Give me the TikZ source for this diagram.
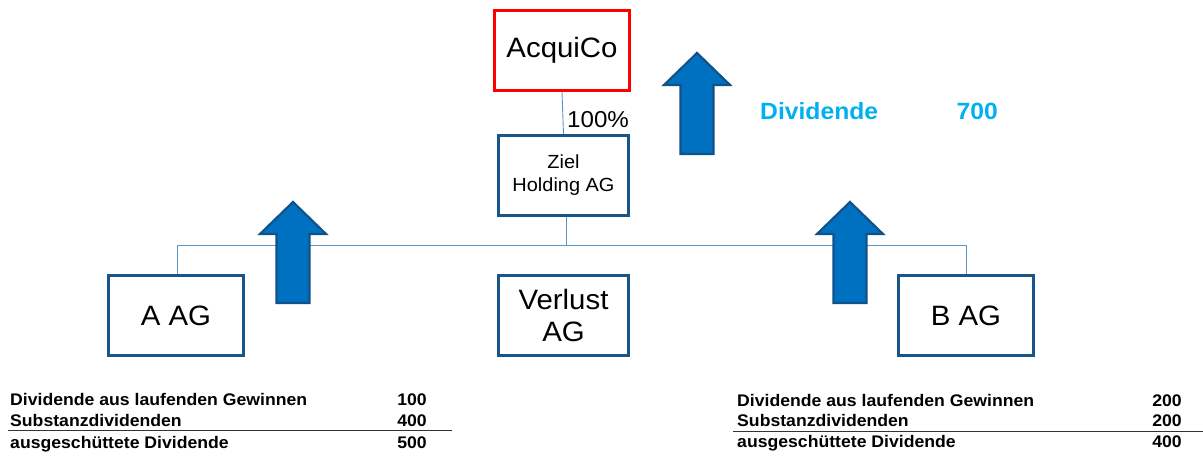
\documentclass[tikz,border=0pt]{standalone}
\usepackage{fontspec}
\setmainfont{Liberation Sans}[FakeStretch=1.05]
\definecolor{boxblue}{RGB}{24,86,138}
\definecolor{linkblue}{RGB}{90,150,200}
\definecolor{arrfill}{RGB}{0,112,192}
\definecolor{arrline}{RGB}{16,82,138}
\definecolor{divblue}{RGB}{0,176,240}
\tikzset{
  entity/.style={draw=boxblue, line width=3pt, fill=white, inner sep=0pt, align=center},
  link/.style={draw=linkblue, line width=0.9pt},
  uparrow/.style={fill=arrfill, draw=arrline, line width=2.2pt, line join=miter},
  tabtext/.style={font=\fontsize{16.8}{18}\selectfont\bfseries, inner sep=0pt},
  rule/.style={draw=black!80, line width=0.9pt}
}
\newcommand{\myuparr}[3]{%
  \path[uparrow] (#1,#2) -- (#1+33,#2+32) -- (#1+16.5,#2+32) -- (#1+16.5,#3) -- (#1-16.5,#3) -- (#1-16.5,#2+32) -- (#1-33,#2+32) -- cycle;}
\begin{document}
\begin{tikzpicture}[x=1pt,y=-1pt]
\useasboundingbox (0,0) rectangle (1203,457);
% boxes
\node[entity, draw=red, minimum width=135, minimum height=80, font=\fontsize{28}{30}\selectfont] (acq) at (562,50.5) {AcquiCo};
\node[entity, minimum width=130, minimum height=80, font=\fontsize{19}{23}\selectfont] (ziel) at (563.5,175.5) {Ziel\\Holding AG};
\node[entity, minimum width=135, minimum height=80, font=\fontsize{28}{30}\selectfont] (aag) at (176,315.5) {A AG};
\node[entity, minimum width=130, minimum height=80, font=\fontsize{28}{32}\selectfont] (vag) at (563.5,315.5) {Verlust\\AG};
\node[entity, minimum width=135, minimum height=80, font=\fontsize{28}{30}\selectfont] (bag) at (966,315.5) {B AG};
% connectors
\coordinate (busL) at (177,245);
\coordinate (busR) at (966,245);
\coordinate (busM) at (566,245);
\draw[link] (acq.south) -- (ziel.north);
\draw[link] (ziel.south -| busM) -- (busM);
\draw[link] (busL) -- (busR);
\draw[link] (busL) -- (aag.north -| busL);
\draw[link] (busR) -- (bag.north -| busR);
\node[anchor=base west, inner sep=0pt, font=\fontsize{23}{25}\selectfont] (pct) at (567,128) {100\%};
% arrows
\myuparr{293}{202}{303}
\myuparr{697}{53}{154}
\myuparr{850}{202}{303}
% dividend label
\node[anchor=base west, inner sep=0pt, text=divblue, font=\fontsize{23.5}{25}\selectfont\bfseries] (divl) at (760,120) {Dividende};
\node[anchor=base east, inner sep=0pt, text=divblue, font=\fontsize{23.5}{25}\selectfont\bfseries] (divv) at (998,120) {700};
% left table
\node[tabtext, anchor=base west] (l1) at (10,405) {Dividende aus laufenden Gewinnen};
\node[tabtext, anchor=base west] (l2) at (10,426) {Substanzdividenden};
\node[tabtext, anchor=base west] (l3) at (10,448) {ausgeschüttete Dividende};
\node[tabtext, anchor=base east] (lv1) at (427,405) {100};
\node[tabtext, anchor=base east] (lv2) at (427,426) {400};
\node[tabtext, anchor=base east] (lv3) at (427,448) {500};
\draw[rule] (8,430) -- (452,430);
% right table
\node[tabtext, anchor=base west] (r1) at (737,406) {Dividende aus laufenden Gewinnen};
\node[tabtext, anchor=base west] (r2) at (737,426) {Substanzdividenden};
\node[tabtext, anchor=base west] (r3) at (737,447) {ausgeschüttete Dividende};
\node[tabtext, anchor=base east] (rv1) at (1182,406) {200};
\node[tabtext, anchor=base east] (rv2) at (1182,426) {200};
\node[tabtext, anchor=base east] (rv3) at (1182,447) {400};
\draw[rule] (733,431) -- (1203,431);
\end{tikzpicture}
\end{document}
